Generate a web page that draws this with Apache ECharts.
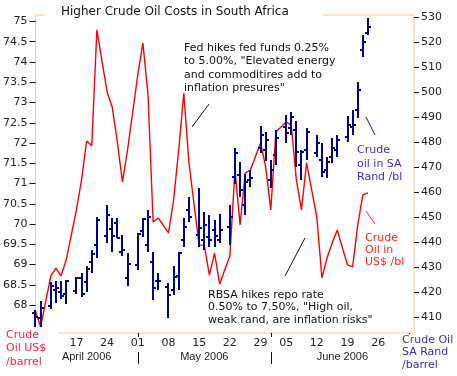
<!DOCTYPE html>
<html>
<head>
<meta charset="utf-8">
<script src="https://cdn.jsdelivr.net/npm/echarts@6/dist/echarts.min.js"></script>
<style>
html, body { margin: 0; padding: 0; background: #fff; }
#chart { width: 457px; height: 376px; }
</style>
</head>
<body>
<div id="chart"></div>
<script>
// trading days shown on the axis (the last ones carry no data)
const dates = [
  '2006-04-06','2006-04-07',
  '2006-04-10','2006-04-11','2006-04-12','2006-04-13',
  '2006-04-17','2006-04-18','2006-04-19','2006-04-20','2006-04-21',
  '2006-04-24','2006-04-25','2006-04-26','2006-04-27','2006-04-28',
  '2006-05-01','2006-05-02','2006-05-03','2006-05-04','2006-05-05',
  '2006-05-08','2006-05-09','2006-05-10','2006-05-11','2006-05-12',
  '2006-05-15','2006-05-16','2006-05-17','2006-05-18','2006-05-19',
  '2006-05-22','2006-05-23','2006-05-24','2006-05-25','2006-05-26',
  '2006-05-30','2006-05-31','2006-06-01','2006-06-02',
  '2006-06-05','2006-06-06','2006-06-07','2006-06-08','2006-06-09',
  '2006-06-12','2006-06-13','2006-06-14','2006-06-15','2006-06-16',
  '2006-06-19','2006-06-20','2006-06-21','2006-06-22','2006-06-23',
  '2006-06-26','2006-06-27','2006-06-28','2006-06-29','2006-06-30',
  '2006-07-03','2006-07-04'
];

// crude oil, US$ per barrel (left axis)
const oilUSD = [
  67.85, 67.46,
  68.72, 68.91, 68.72, 69.11,
  70.35, 71.09, 72.05, 71.93, 74.79,
  73.26, 72.89, 72.02, 71.04, 71.83,
  73.68, 74.47, 73.19, 70.05, 70.15,
  69.78, 70.59, 71.83, 73.23, 71.51,
  69.48, 69.48, 68.74, 69.28, 68.52,
  69.21, 71.33, 69.98, 71.26, 71.33,
  72.00, 71.41, 70.35, 72.27,
  72.52, 72.44, 71.09, 70.35, 71.51,
  70.17, 68.67, 69.16, 69.53, 69.85,
  68.99, 68.94, 69.98, 70.72, 70.77
];

// crude oil in SA Rand per barrel (right axis), open / high / low / close
const randOpen = [
  411.6, 409.6,
  414.4, 420.8, 420.0, 419.2,
  420.4, 425.6, 424.0, 432.0, 438.8,
  442.4, 445.2, 447.6, 436.0, 425.6,
  430.8, 444.4, 438.8, 432.0, 424.4,
  422.0, 420.8, 426.4, 440.8, 452.8,
  442.8, 440.8, 442.0, 444.8, 440.8,
  446.0, 466.0, 466.8, 454.8, 464.8,
  477.6, 476.8, 464.8, 474.8,
  486.0, 485.6, 484.8, 470.8, 476.8,
  475.6, 472.8, 468.8, 474.0, 476.8,
  482.0, 486.0, 492.8, 516.8, 523.6
];
const randHigh = [
  412.8, 416.4,
  424.0, 424.4, 424.4, 424.8,
  426.0, 427.6, 430.4, 436.8, 450.0,
  454.8, 449.6, 449.6, 442.8, 435.6,
  443.6, 449.6, 452.8, 436.0, 427.6,
  423.6, 430.4, 436.0, 449.6, 458.0,
  461.6, 452.0, 450.8, 448.8, 451.2,
  454.8, 477.6, 472.0, 467.2, 468.8,
  486.4, 484.0, 472.8, 484.8,
  490.8, 492.0, 488.4, 476.8, 485.6,
  482.8, 479.6, 474.0, 481.6, 482.8,
  490.4, 492.8, 504.0, 522.8, 529.6
];
const randLow = [
  405.6, 406.0,
  413.2, 415.6, 417.2, 415.2,
  419.2, 418.0, 420.0, 427.6, 433.6,
  439.6, 436.0, 441.6, 434.4, 422.4,
  428.8, 442.0, 436.0, 416.8, 420.8,
  409.6, 418.8, 420.8, 438.0, 448.0,
  438.0, 436.8, 438.0, 438.0, 439.6,
  438.8, 463.2, 458.0, 450.8, 462.0,
  475.6, 472.4, 461.6, 470.8,
  479.6, 482.8, 470.0, 464.8, 472.8,
  474.0, 466.0, 465.6, 471.6, 474.0,
  480.0, 482.8, 489.6, 514.0, 522.8
];
const randClose = [
  410.0, 413.6,
  422.4, 421.6, 418.4, 424.4,
  425.6, 419.2, 429.2, 435.2, 448.8,
  450.8, 442.4, 441.6, 436.8, 431.2,
  443.2, 449.2, 450.0, 421.6, 424.4,
  418.8, 426.0, 435.6, 446.0, 450.0,
  445.6, 446.8, 440.8, 442.4, 444.8,
  450.0, 475.6, 460.8, 464.0, 465.6,
  482.8, 480.8, 468.8, 481.6,
  483.6, 490.0, 476.0, 476.0, 484.0,
  479.6, 468.0, 472.0, 477.6, 480.8,
  486.8, 486.8, 500.8, 520.0, 526.0
];

const leftTicks = [68, 68.5, 69, 69.5, 70, 70.5, 71, 71.5, 72, 72.5, 73, 73.5, 74, 74.5, 75];
const rightTicks = [410, 420, 430, 440, 450, 460, 470, 480, 490, 500, 510, 520, 530];
const weekStarts = ['2006-04-17','2006-04-24','2006-05-01','2006-05-08','2006-05-15','2006-05-22',
                    '2006-05-29','2006-06-05','2006-06-12','2006-06-19','2006-06-26'];
const monthNames = ['April 2006', 'May 2006', 'June 2006'];

// category slots: one per trading day, plus one empty slot at every break
const cats = [];
const slotOf = [];
dates.forEach(function (d, i) {
  if (i > 0 && (new Date(d) - new Date(dates[i - 1])) > 864e5) cats.push('');
  slotOf.push(cats.length);
  cats.push(d);
});

const weekLabel = {};
weekStarts.forEach(function (m) {
  const idx = dates.findIndex(function (d) { return d >= m; });
  weekLabel[slotOf[idx]] = m.slice(8);
});

const monthStart = [];
dates.forEach(function (d, i) {
  if (i === 0 || d.slice(5, 7) !== dates[i - 1].slice(5, 7)) monthStart.push(slotOf[i]);
});
const monthLabel = {};
monthStart.forEach(function (s, i) {
  const end = i + 1 < monthStart.length ? monthStart[i + 1] : cats.length - 1;
  monthLabel[Math.round((s + end) / 2)] = monthNames[i];
});
const isSep = function (idx) { return idx > 0 && monthStart.indexOf(idx) >= 0; };

const oilData = oilUSD.map(function (v, i) { return [slotOf[i], v]; });
const randData = randOpen.map(function (v, i) {
  return [slotOf[i], v, randHigh[i], randLow[i], randClose[i]];
});

const orange = '#f8c89c';
const blue = '#00008f';
const font = '11px "DejaVu Sans"';

const chart = echarts.init(document.getElementById('chart'));
chart.setOption({
  animation: false,
  backgroundColor: '#fff',
  title: {
    text: 'Higher Crude Oil Costs in South Africa',
    left: 45, top: 1,
    padding: [5, 34, 4, 16],
    backgroundColor: '#fff',
    textStyle: { fontFamily: 'DejaVu Sans', fontSize: 12, fontWeight: 'normal', color: '#111' }
  },
  grid: { left: 32, right: 43, top: 15, bottom: 43, show: true, borderColor: orange, borderWidth: 1 },
  xAxis: [
    {
      type: 'category', data: cats, boundaryGap: false,
      axisLine: { show: false },
      axisTick: { show: true, length: 4, interval: isSep, lineStyle: { color: '#111' } },
      axisLabel: {
        interval: function (idx) { return weekLabel[idx] !== undefined; },
        formatter: function (v, idx) { return weekLabel[idx]; },
        margin: 5, fontFamily: 'DejaVu Sans', fontSize: 11, color: '#222'
      },
      splitLine: { show: false }
    },
    {
      type: 'category', data: cats, boundaryGap: false, position: 'bottom', offset: 12,
      axisLine: { show: false }, axisTick: { show: false },
      axisLabel: {
        interval: function (idx) { return monthLabel[idx] !== undefined; },
        formatter: function (v, idx) { return monthLabel[idx]; },
        margin: 6, fontFamily: 'Liberation Sans', fontSize: 11, color: '#222'
      }
    },
    {
      type: 'category', data: cats, boundaryGap: false, position: 'bottom', offset: 19,
      axisLine: { show: false },
      axisTick: { show: true, length: 12, interval: isSep, lineStyle: { color: '#111' } },
      axisLabel: { show: false }
    }
  ],
  yAxis: [
    {
      type: 'value', position: 'left', min: 67.31, max: 75.16,
      axisLine: { show: false },
      axisTick: { show: true, length: 6, customValues: leftTicks, lineStyle: { color: '#111' } },
      axisLabel: { customValues: leftTicks, margin: 8, fontFamily: 'DejaVu Sans', fontSize: 11, color: '#222' },
      splitLine: { show: false }
    },
    {
      type: 'value', position: 'right', min: 403.6, max: 530.8,
      axisLine: { show: false },
      axisTick: { show: true, length: 5, customValues: rightTicks, lineStyle: { color: '#111' } },
      axisLabel: { customValues: rightTicks, margin: 7, fontFamily: 'DejaVu Sans', fontSize: 11, color: '#222' },
      splitLine: { show: false }
    }
  ],
  series: [
    {
      name: 'Crude Oil US$', type: 'line', data: oilData,
      xAxisIndex: 0, yAxisIndex: 0,
      showSymbol: false, lineStyle: { color: '#ff0000', width: 1.4 }, z: 2
    },
    {
      name: 'Crude Oil SA Rand', type: 'custom', data: randData,
      xAxisIndex: 0, yAxisIndex: 1, z: 3,
      encode: { x: 0, y: [1, 2, 3, 4] },
      renderItem: function (params, api) {
        const x = api.value(0);
        const o = api.coord([x, api.value(1)]);
        const h = api.coord([x, api.value(2)]);
        const l = api.coord([x, api.value(3)]);
        const c = api.coord([x, api.value(4)]);
        // snap to whole pixels so the 2px strokes stay crisp
        const px = Math.round(h[0]);
        const oy = Math.round(o[1]);
        const cy = Math.round(c[1]);
        const st = { stroke: blue, lineWidth: 2 };
        return {
          type: 'group',
          children: [
            { type: 'line', shape: { x1: px, y1: Math.round(h[1]), x2: px, y2: Math.round(l[1]) }, style: st },
            { type: 'line', shape: { x1: px - 3, y1: oy, x2: px, y2: oy }, style: st },
            { type: 'line', shape: { x1: px, y1: cy, x2: px + 3, y2: cy }, style: st }
          ]
        };
      }
    }
  ],
  graphic: [
    { type: 'text', z: 100, style: { x: 184, y: 41.5, verticalAlign: 'top', font: font, lineHeight: 13.3, fill: '#111',
      text: 'Fed hikes fed funds 0.25%\nto 5.00%, "Elevated energy\nand commoditires add to\ninflation presures"' } },
    { type: 'text', z: 100, style: { x: 208, y: 288.5, verticalAlign: 'top', font: font, lineHeight: 12.7, fill: '#111',
      text: 'RBSA hikes repo rate\n0.50% to 7.50%, "High oil,\nweak rand, are inflation risks"' } },
    { type: 'text', z: 100, style: { x: 357, y: 143.5, verticalAlign: 'top', font: font, lineHeight: 13.5, fill: '#3a2bd0',
      text: 'Crude\noil in SA\nRand /bl' } },
    { type: 'text', z: 100, style: { x: 365, y: 231.5, verticalAlign: 'top', font: font, lineHeight: 12.3, fill: '#ff2020',
      text: 'Crude\nOil in\nUS$ /bl' } },
    { type: 'rect', z: 99, shape: { x: 1, y: 327, width: 57, height: 49 }, style: { fill: '#fff' } },
    { type: 'text', z: 100, style: { x: 6, y: 328, verticalAlign: 'top', font: font, lineHeight: 13.5, fill: '#ff2040',
      text: 'Crude\nOil US$\n/barrel' } },
    { type: 'rect', z: 99, shape: { x: 399, y: 334, width: 58, height: 42 }, style: { fill: '#fff' } },
    { type: 'text', z: 100, style: { x: 402, y: 333.5, verticalAlign: 'top', font: font, lineHeight: 12.7, fill: '#3a2bd0',
      text: 'Crude Oil\nSA Rand\n/barrel' } },
    { type: 'line', z: 100, shape: { x1: 192, y1: 127, x2: 209, y2: 104 }, style: { stroke: '#111', lineWidth: 1 } },
    { type: 'line', z: 100, shape: { x1: 285, y1: 276, x2: 305, y2: 238 }, style: { stroke: '#111', lineWidth: 1 } },
    { type: 'line', z: 100, shape: { x1: 366, y1: 117, x2: 375, y2: 135 }, style: { stroke: '#1a1a8c', lineWidth: 1 } },
    { type: 'line', z: 100, shape: { x1: 366, y1: 211, x2: 375, y2: 224 }, style: { stroke: '#ff2020', lineWidth: 1 } }
  ]
});
</script>
</body>
</html>
